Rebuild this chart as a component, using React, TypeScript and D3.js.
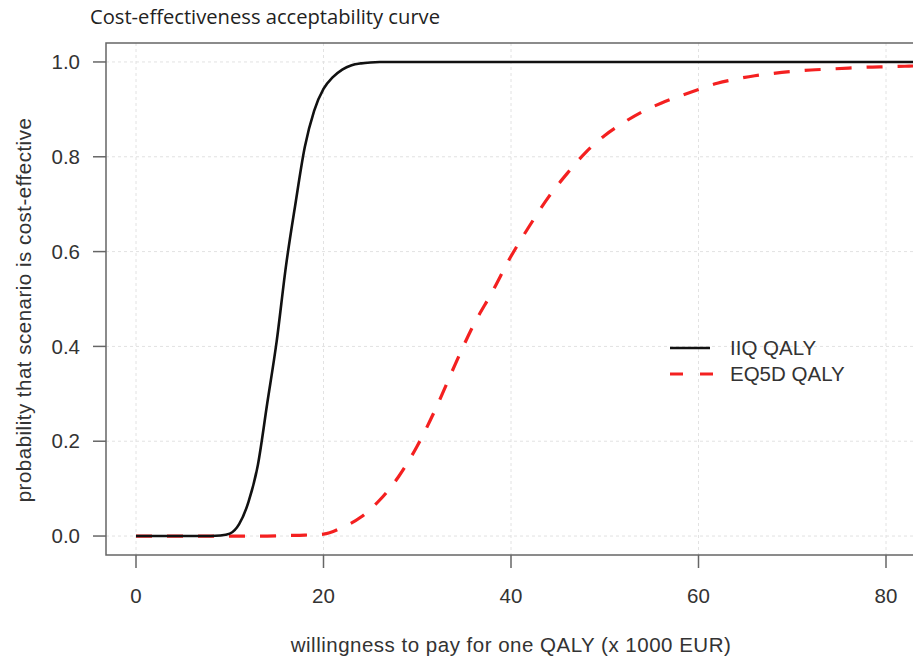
import React from 'react';
import * as d3 from 'd3';

// willingness to pay (x 1000 EUR) and probability cost-effective
const iiqWtp = [0, 2, 4, 6, 8, 9, 10, 11, 12, 13, 14, 15, 16, 17, 18, 19, 20, 21, 22, 23, 24, 25, 26, 28, 30, 40, 50, 60, 70, 80, 90];
const iiqProb = [0, 0, 0, 0, 0, 0.001, 0.005, 0.025, 0.072, 0.15, 0.28, 0.41, 0.57, 0.7, 0.82, 0.897, 0.943, 0.968, 0.984, 0.993, 0.997, 0.999, 1, 1, 1, 1, 1, 1, 1, 1, 1];

const eq5dWtp = [0, 2, 4, 6, 8, 10, 12, 14, 16, 18, 20, 22, 24, 26, 28, 30, 32, 34, 36, 38, 40, 42, 44, 46, 48, 50, 52, 54, 56, 58, 60, 62, 64, 66, 68, 70, 72, 74, 76, 78, 80, 82, 84, 86, 88];
const eq5dProb = [0, 0, 0, 0, 0, 0, 0, 0, 0.001, 0.002, 0.004, 0.018, 0.04, 0.076, 0.125, 0.19, 0.27, 0.36, 0.445, 0.515, 0.59, 0.655, 0.715, 0.765, 0.81, 0.845, 0.872, 0.895, 0.913, 0.928, 0.942, 0.955, 0.964, 0.971, 0.976, 0.98, 0.983, 0.985, 0.987, 0.989, 0.99, 0.991, 0.992, 0.993, 0.994];

const xTicks = [0, 20, 40, 60, 80];
const yTicks = [0, 0.2, 0.4, 0.6, 0.8, 1.0];

const seriesNames = ['IIQ QALY', 'EQ5D QALY'];

const W = 913;
const H = 661;
const plot = { left: 106, right: 916, top: 43, bottom: 555 };

const axisFont = '"Liberation Sans", Arial, sans-serif';
const fs = 20.5;

export default function App() {
  // R style 4% padding around the data range
  const x = d3.scaleLinear().domain([-3.2, 83.2]).range([plot.left, plot.right]);
  const y = d3.scaleLinear().domain([-0.04, 1.04]).range([plot.bottom, plot.top]);

  const line = d3.line<[number, number]>()
    .x(d => x(d[0]))
    .y(d => y(d[1]))
    .curve(d3.curveMonotoneX);

  const iiqPath = line(iiqWtp.map((w, i) => [w, iiqProb[i]]) as [number, number][]) || '';
  const eq5dPath = line(eq5dWtp.map((w, i) => [w, eq5dProb[i]]) as [number, number][]) || '';

  const legX = 670;
  const legY = 348;

  return (
    <svg width={W} height={H} style={{ position: 'absolute', left: 0, top: 0, background: '#fff' }}>
      <defs>
        <clipPath id="plotClip">
          <rect x={plot.left} y={plot.top} width={plot.right - plot.left} height={plot.bottom - plot.top} />
        </clipPath>
      </defs>

      <text x={90} y={24} fontFamily='"Open Sans", sans-serif' fontSize={20} fill="#222"
        textLength={350} lengthAdjust="spacingAndGlyphs">
        Cost-effectiveness acceptability curve
      </text>

      {/* grid */}
      <g stroke="#e2e2e2" strokeWidth={1} strokeDasharray="3,3">
        {xTicks.map(t => (
          <line key={'gx' + t} x1={x(t)} x2={x(t)} y1={plot.top} y2={plot.bottom} />
        ))}
        {yTicks.map(t => (
          <line key={'gy' + t} x1={plot.left} x2={plot.right} y1={y(t)} y2={y(t)} />
        ))}
      </g>

      {/* curves */}
      <g clipPath="url(#plotClip)" fill="none">
        <path d={eq5dPath} stroke="#f42020" strokeWidth={3.2} strokeDasharray="16,15" />
        <path d={iiqPath} stroke="#111" strokeWidth={2.6} />
      </g>

      {/* box */}
      <rect x={plot.left} y={plot.top} width={plot.right - plot.left} height={plot.bottom - plot.top}
        fill="none" stroke="#666" strokeWidth={1.5} />

      {/* x axis */}
      <g fontFamily={axisFont} fontSize={fs} fill="#333" textAnchor="middle">
        {xTicks.map(t => (
          <g key={'xt' + t}>
            <line x1={x(t)} x2={x(t)} y1={plot.bottom} y2={plot.bottom + 13} stroke="#666" strokeWidth={1.5} />
            <text x={x(t)} y={603}>{d3.format('d')(t)}</text>
          </g>
        ))}
        <text x={(plot.left + plot.right) / 2} y={652} letterSpacing={0.5}>
          willingness to pay for one QALY (x 1000 EUR)
        </text>
      </g>

      {/* y axis */}
      <g fontFamily={axisFont} fontSize={fs} fill="#333">
        {yTicks.map(t => (
          <g key={'yt' + t}>
            <line x1={plot.left - 13} x2={plot.left} y1={y(t)} y2={y(t)} stroke="#666" strokeWidth={1.5} />
            <text x={80} y={y(t)} dy="0.35em" textAnchor="end">{d3.format('.1f')(t)}</text>
          </g>
        ))}
        <text transform={`translate(24,${(plot.top + plot.bottom) / 2 + 11}) rotate(-90)`} textAnchor="middle"
          dy="0.35em" letterSpacing={0.5}>
          probability that scenario is cost-effective
        </text>
      </g>

      {/* legend */}
      <g fontFamily={axisFont} fontSize={fs} fill="#333">
        <line x1={legX} x2={legX + 40} y1={legY} y2={legY} stroke="#111" strokeWidth={2.6} />
        <text x={legX + 60} y={legY} dy="0.35em">{seriesNames[0]}</text>
        <line x1={legX} x2={legX + 44} y1={legY + 26} y2={legY + 26} stroke="#f42020" strokeWidth={3.2} strokeDasharray="13,17" />
        <text x={legX + 60} y={legY + 26} dy="0.35em">{seriesNames[1]}</text>
      </g>
    </svg>
  );
}
